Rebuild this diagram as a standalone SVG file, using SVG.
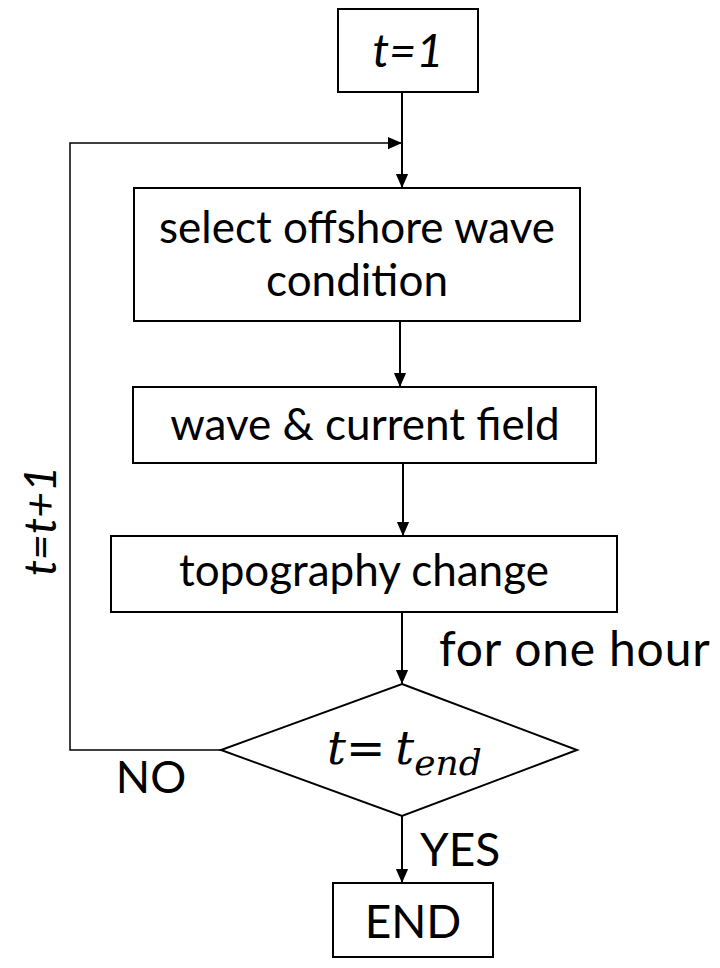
<svg xmlns="http://www.w3.org/2000/svg" width="720" height="968" viewBox="0 0 720 968">
<defs>
<marker id="ah" markerWidth="14" markerHeight="16" viewBox="0 0 16 14" refX="16" refY="7" orient="auto" markerUnits="userSpaceOnUse">
<path d="M0,0 L16,7 L0,14 Z" fill="#000"/>
</marker>
<style>
.box{fill:#fff;stroke:#000;stroke-width:2}
.lbl{font-family:Lato,"Open Sans","Liberation Sans",sans-serif;font-size:44px;fill:#000;text-anchor:middle}
.start{text-anchor:start}
.it{font-style:italic}
.math{font-family:"DejaVu Serif","Liberation Serif",serif;font-style:italic;fill:#000}
.conn{fill:none;stroke:#000;stroke-width:2}
.thin{fill:none;stroke:#000;stroke-width:1.5}
</style>
</defs>
<rect width="720" height="968" fill="#fff"/>
<g id="connectors">
<line class="conn" x1="402" y1="93" x2="402" y2="188" marker-end="url(#ah)"/>
<polyline class="thin" points="221,750 70,750 70,143 402,143" marker-end="url(#ah)"/>
<line class="conn" x1="400" y1="321" x2="400" y2="387" marker-end="url(#ah)"/>
<line class="conn" x1="403" y1="463" x2="403" y2="536" marker-end="url(#ah)"/>
<line class="conn" x1="402" y1="612" x2="402" y2="684" marker-end="url(#ah)"/>
<line class="conn" x1="402" y1="816" x2="402" y2="883" marker-end="url(#ah)"/>
<text class="lbl start" x="439" y="666" style="font-size:48px;letter-spacing:0.8px">for one hour</text>
<text class="lbl it" x="0" y="0" transform="translate(56,521) rotate(-90)" style="font-size:45px">t=t+1</text>
<text class="lbl" x="151" y="793" style="font-size:45px">NO</text>
<text class="lbl start" x="420" y="866" style="font-size:46px">YES</text>
</g>
<g id="start">
<rect class="box" x="338" y="9" width="140" height="83"/>
<text class="lbl it" x="408" y="67" style="font-size:47px">t=1</text>
</g>
<g id="select">
<rect class="box" x="134" y="188" width="446" height="133"/>
<text class="lbl" x="357" y="243">select offshore wave</text>
<text class="lbl" x="357" y="296">condition</text>
</g>
<g id="wave">
<rect class="box" x="133" y="387" width="463" height="76"/>
<text class="lbl" x="365" y="440">wave &amp; current field</text>
</g>
<g id="topo">
<rect class="box" x="111" y="536" width="506" height="76"/>
<text class="lbl" x="364" y="586">topography change</text>
</g>
<g id="decision">
<polygon class="box" points="402,684 577,750 402,816 221,750"/>
<text class="math" x="327" y="764" font-size="47">t=<tspan dx="10">t</tspan><tspan font-size="36" dy="11">end</tspan></text>
</g>
<g id="end">
<rect class="box" x="333" y="883" width="160" height="74"/>
<text class="lbl" x="413" y="938" style="font-size:46px">END</text>
</g>
</svg>
